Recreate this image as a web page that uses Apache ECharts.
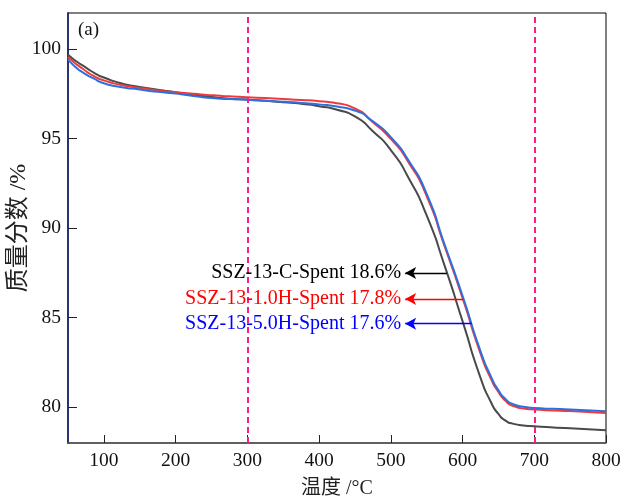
<!DOCTYPE html>
<html>
<head>
<meta charset="utf-8">
<script src="https://cdn.jsdelivr.net/npm/echarts@6/dist/echarts.min.js"></script>
<style>html,body{margin:0;padding:0;background:#fff}#c{width:622px;height:499px}</style>
</head>
<body>
<div id="c"></div>
<script>
// Temperature (°C) / mass fraction (%) readings
var tempC = [50,60,75,90,100,125,150,175,200,225,250,275,300,325,350,375,400,425,450,475,500,525,550,575,600,625,640,650,660,670,685,700,750,800];
var massC = [99.67,99.35,98.95,98.58,98.4,98.07,97.87,97.72,97.58,97.44,97.31,97.22,97.17,97.1,97.02,96.93,96.8,96.6,96.23,95.4,94.35,92.78,90.7,87.9,84.8,81.65,80.25,79.62,79.25,79.08,78.98,78.93,78.82,78.71];

var temp1 = [50,60,70,85,100,125,150,175,200,225,250,275,300,325,350,375,400,425,450,475,500,525,550,575,600,625,640,650,660,670,685,700,750,800];
var mass1 = [99.54,99.2,98.9,98.5,98.24,97.98,97.82,97.68,97.58,97.49,97.41,97.35,97.3,97.25,97.2,97.15,97.08,96.96,96.67,95.9,94.97,93.65,91.78,88.98,86.1,83.0,81.55,80.85,80.35,80.08,79.93,79.87,79.78,79.68];

var temp5 = [50,60,70,85,100,125,150,175,200,225,250,275,300,325,350,375,400,425,450,475,500,525,550,575,600,625,640,650,660,670,685,700,750,800];
var mass5 = [99.42,99.0,98.7,98.36,98.08,97.86,97.73,97.6,97.5,97.37,97.26,97.2,97.16,97.1,97.05,96.98,96.9,96.78,96.55,95.95,95.07,93.75,91.9,89.08,86.22,83.13,81.68,80.95,80.45,80.18,80.02,79.96,79.87,79.77];

var seriesNames = ['SSZ-13-C-Spent','SSZ-13-1.0H-Spent','SSZ-13-5.0H-Spent'];
var lossLabels = ['18.6%','17.8%','17.6%'];
var arrowY = [87.49, 86.04, 84.66];
var arrowFromX = [578, 601, 612.7];
var arrowToX = 520;
var guideX = [300, 700];
var xTicks = [100,200,300,400,500,600,700,800];
var yTicks = [80,85,90,95,100];

var lineColors = ['#4a4a4a','#f03a3a','#2e6fe0'];
var textColors = ['#000000','#ff0000','#0000ff'];
var FONT = '"Liberation Serif","Times New Roman","Noto Sans CJK SC",serif';

function zip(a,b){return a.map(function(v,i){return [v,b[i]];});}
var datas = [zip(tempC,massC), zip(temp1,mass1), zip(temp5,mass5)];

var series = datas.map(function(d,i){
  return {
    type:'line', name:seriesNames[i], data:d, smooth:0.7, showSymbol:false,
    lineStyle:{color:lineColors[i], width:2}, z:2+i,
    markLine:{
      silent:true, symbol:['none','arrow'], symbolSize:[9,11],
      lineStyle:{color:textColors[i], width:1.3, type:'solid'},
      label:{show:true, position:'end', distance:4, color:textColors[i], fontFamily:FONT, fontSize:20,
             formatter: seriesNames[i] + ' ' + lossLabels[i]},
      data:[[{coord:[arrowFromX[i], arrowY[i]]},{coord:[arrowToX, arrowY[i]]}]]
    }
  };
});
series.push({
  type:'line', data:[], z:1,
  markLine:{silent:true, symbol:'none', label:{show:false},
    lineStyle:{color:'#ff1a8c', width:2, type:[6,4]},
    data: guideX.map(function(v){return {xAxis:v};})}
});

var chart = echarts.init(document.getElementById('c'), null, {renderer:'canvas'});
chart.setOption({
  animation:false,
  backgroundColor:'#fff',
  grid:{left:68, right:16, top:13, bottom:56, outerBoundsMode:'none', containLabel:false,
        show:true, borderColor:'#000', borderWidth:1, backgroundColor:'transparent'},
  xAxis:{type:'value', min:50, max:800,
    name:'温度 /°C', nameLocation:'middle', nameGap:36,
    nameTextStyle:{fontFamily:FONT, fontSize:20, color:'#222'},
    axisLine:{show:true, onZero:false, lineStyle:{color:'#555', width:1.5}},
    axisTick:{show:true, inside:true, length:8, customValues:xTicks, lineStyle:{color:'#222'}},
    axisLabel:{customValues:xTicks, fontFamily:FONT, fontSize:19.5, color:'#111', margin:8},
    splitLine:{show:false}},
  yAxis:{type:'value', min:78, max:102,
    name:'质量分数 /%', nameLocation:'middle', nameGap:37, nameMoveOverlap:false,
    nameTextStyle:{fontFamily:FONT, fontSize:24, color:'#222'},
    axisLine:{show:true, onZero:false, lineStyle:{color:'#2b3270', width:2}},
    axisTick:{show:true, inside:true, length:9, customValues:yTicks, lineStyle:{color:'#222'}},
    axisLabel:{customValues:yTicks, fontFamily:FONT, fontSize:19.5, color:'#111', margin:7},
    splitLine:{show:false}},
  graphic:[{type:'text', left:78, top:21, style:{text:'(a)', font:'19px '+FONT, fill:'#111'}}],
  series:series
});
</script>
</body>
</html>
